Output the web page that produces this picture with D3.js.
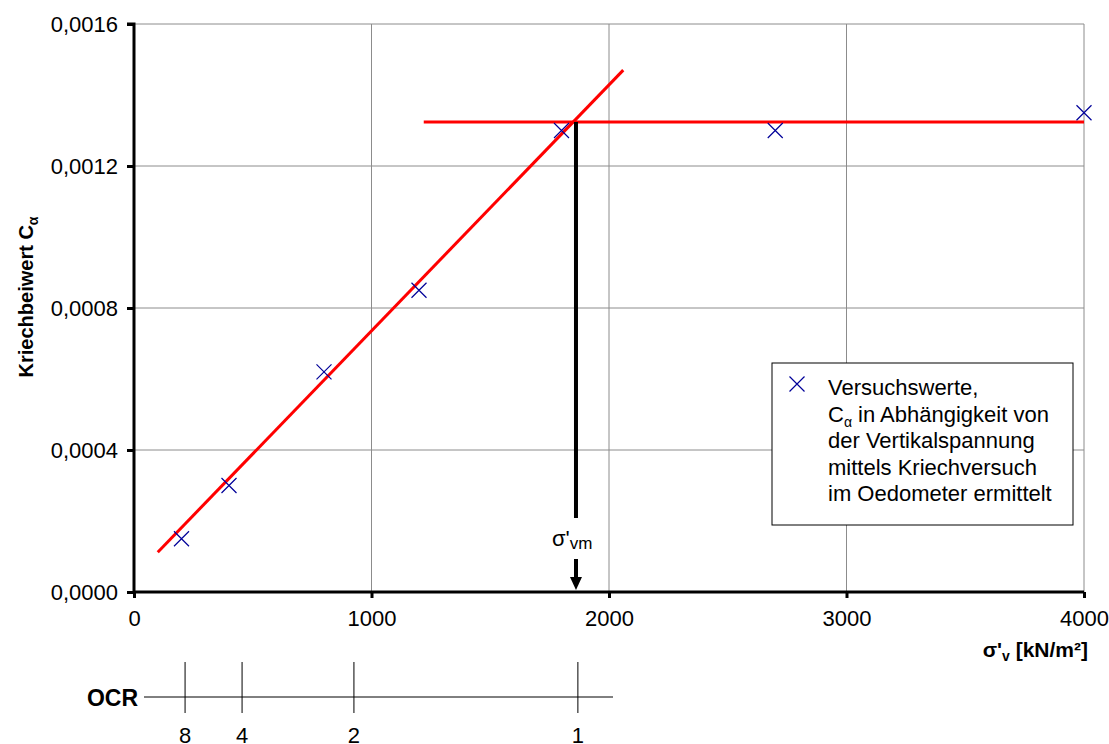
<!DOCTYPE html>
<html>
<head>
<meta charset="utf-8">
<script src="https://cdn.jsdelivr.net/npm/d3@7"></script>
<style>
  body { margin: 0; background: #fff; }
  svg { font-family: "Liberation Sans", Arial, sans-serif; }
</style>
</head>
<body>
<svg id="chart" width="1109" height="744"></svg>
<script>
// measured points (sigma'v in kN/m2, C_alpha)
const stress = [200, 400, 800, 1200, 1800, 2700, 4000];
const creep = [0.00015, 0.0003, 0.00062, 0.00085, 0.0013, 0.0013, 0.00135];

// fitted lines
const fitX = [100, 2060];
const fitY = [0.000112, 0.00147];
const plateauX = [1220, 4000];
const plateauY = [0.001324, 0.001324];

const sigmaVm = 1861;
const ocrValues = [8, 4, 2, 1];
const ocrStress = [215, 455, 926, 1869];

const xTicks = [0, 1000, 2000, 3000, 4000];
const yTicks = [0, 0.0004, 0.0008, 0.0012, 0.0016];

const legendLines = ["Versuchswerte,", "C", "der Vertikalspannung", "mittels Kriechversuch", "im Oedometer ermittelt"];

const svg = d3.select("#chart");

const x = d3.scaleLinear().domain([0, 4000]).range([134, 1084]);
const y = d3.scaleLinear().domain([0, 0.0016]).range([592, 24]);

// grid
svg.append("g").selectAll("line")
  .data(xTicks.slice(1))
  .enter().append("line")
  .attr("x1", d => x(d)).attr("x2", d => x(d))
  .attr("y1", y(0)).attr("y2", y(0.0016))
  .attr("stroke", "#8c8c8c").attr("stroke-width", 1);

svg.append("g").selectAll("line")
  .data(yTicks.slice(1))
  .enter().append("line")
  .attr("x1", x(0)).attr("x2", x(4000))
  .attr("y1", d => y(d)).attr("y2", d => y(d))
  .attr("stroke", "#8c8c8c").attr("stroke-width", 1);

// axes
const fmt = d => d3.format(".4f")(d).replace(".", ",");

const yAxis = svg.append("g")
  .attr("transform", `translate(${x(0)},0)`)
  .call(d3.axisLeft(y).tickValues(yTicks).tickFormat(fmt).tickSize(7).tickPadding(9));
const xAxis = svg.append("g")
  .attr("transform", `translate(0,${y(0)})`)
  .call(d3.axisBottom(x).tickValues(xTicks).tickFormat(d3.format("d")).tickSize(6).tickPadding(12));

[xAxis, yAxis].forEach(a => {
  a.select(".domain").attr("stroke", "#000").attr("stroke-width", 3);
  a.selectAll(".tick line").attr("stroke", "#000").attr("stroke-width", 3);
  a.selectAll(".tick text").attr("fill", "#000").style("font-size", "22px")
    .style("font-family", "'Liberation Sans', Arial, sans-serif");
});
yAxis.select(".domain").attr("d", `M-7,${y(0.0016)}H0V${y(0)}`);
xAxis.select(".domain").attr("d", `M${x(0)},0H${x(4000)}`);

// fitted lines
const line = d3.line().x(d => x(d[0])).y(d => y(d[1]));
svg.append("path")
  .attr("d", line(d3.zip(fitX, fitY)))
  .attr("stroke", "#ff0000").attr("stroke-width", 3).attr("fill", "none");
svg.append("path")
  .attr("d", line(d3.zip(plateauX, plateauY)))
  .attr("stroke", "#ff0000").attr("stroke-width", 3).attr("fill", "none");

// arrow for sigma'vm
const ax = x(sigmaVm);
svg.append("line")
  .attr("x1", ax).attr("x2", ax)
  .attr("y1", y(plateauY[0])).attr("y2", 518)
  .attr("stroke", "#000").attr("stroke-width", 4);
svg.append("line")
  .attr("x1", ax).attr("x2", ax)
  .attr("y1", 559).attr("y2", 578)
  .attr("stroke", "#000").attr("stroke-width", 4);
svg.append("path")
  .attr("d", `M${ax - 6},577L${ax + 6},577L${ax},${y(0) - 2}Z`)
  .attr("fill", "#000");
const vmLabel = svg.append("text")
  .attr("x", ax - 24).attr("y", 546)
  .style("font-size", "22px");
vmLabel.append("tspan").text("σ'");
vmLabel.append("tspan").attr("dy", 3).style("font-size", "17px").text("vm");

// data markers
const mk = 7.5;
svg.append("g").selectAll("path")
  .data(d3.zip(stress, creep))
  .enter().append("path")
  .attr("d", d => {
    const px = x(d[0]), py = y(d[1]);
    return `M${px - mk},${py - mk}L${px + mk},${py + mk}M${px - mk},${py + mk}L${px + mk},${py - mk}`;
  })
  .attr("stroke", "#000099").attr("stroke-width", 1.2).attr("fill", "none");

// axis titles
const yTitle = svg.append("text")
  .attr("transform", "translate(33,297) rotate(-90)")
  .attr("text-anchor", "middle")
  .style("font-size", "20px").style("font-weight", "bold");
yTitle.append("tspan").text("Kriechbeiwert C");
yTitle.append("tspan").attr("dy", 5).style("font-size", "14px").text("α");

const xTitle = svg.append("text")
  .attr("x", 1088).attr("y", 657)
  .attr("text-anchor", "end")
  .style("font-size", "21px").style("font-weight", "bold");
xTitle.append("tspan").text("σ'");
xTitle.append("tspan").attr("dy", 4).style("font-size", "14px").text("v");
xTitle.append("tspan").attr("dy", -4).text(" [kN/m²]");

// legend
svg.append("rect")
  .attr("x", 772).attr("y", 363).attr("width", 301).attr("height", 162)
  .attr("fill", "#fff").attr("stroke", "#000").attr("stroke-width", 1);
svg.append("path")
  .attr("d", `M${797 - mk},${384 - mk}L${797 + mk},${384 + mk}M${797 - mk},${384 + mk}L${797 + mk},${384 - mk}`)
  .attr("stroke", "#000099").attr("stroke-width", 1.2);
legendLines.forEach((t, i) => {
  const tx = svg.append("text")
    .attr("x", 828).attr("y", 395 + i * 26.5)
    .style("font-size", "22px");
  if (i === 1) {
    tx.append("tspan").text("C");
    tx.append("tspan").attr("dy", 5).style("font-size", "14px").text("α");
    tx.append("tspan").attr("dy", -5).text(" in Abhängigkeit von");
  } else {
    tx.text(t);
  }
});

// OCR scale
const ocrY = 697;
svg.append("line")
  .attr("x1", 144).attr("x2", 613)
  .attr("y1", ocrY).attr("y2", ocrY)
  .attr("stroke", "#000").attr("stroke-width", 1);
svg.append("text")
  .attr("x", 138).attr("y", 706)
  .attr("text-anchor", "end")
  .style("font-size", "23px").style("font-weight", "bold")
  .text("OCR");
const ocrG = svg.append("g").selectAll("g")
  .data(d3.zip(ocrValues, ocrStress))
  .enter().append("g")
  .attr("transform", d => `translate(${x(d[1])},0)`);
ocrG.append("line")
  .attr("y1", 662).attr("y2", 713)
  .attr("stroke", "#000").attr("stroke-width", 1);
ocrG.append("text")
  .attr("y", 743)
  .attr("text-anchor", "middle")
  .style("font-size", "22px")
  .text(d => d[0]);
</script>
</body>
</html>
